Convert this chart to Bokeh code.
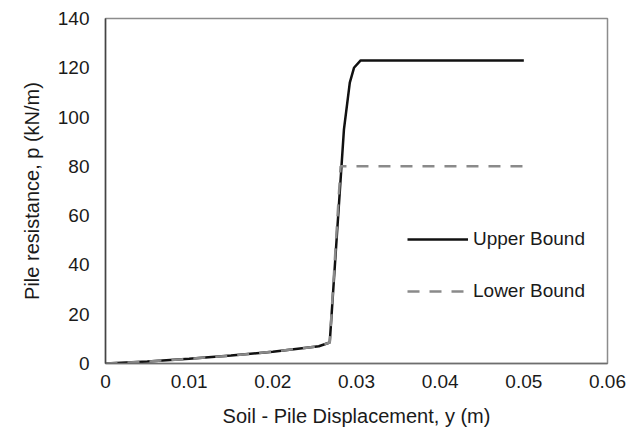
from bokeh.plotting import figure
from bokeh.models import Range1d, FixedTicker, CustomJSTickFormatter, Legend, LegendItem
from bokeh.embed import file_html
from bokeh.resources import INLINE

# Data
upper_y = [0, 0.005, 0.01, 0.015, 0.02, 0.0255, 0.0268, 0.0285, 0.0292, 0.0297, 0.0305, 0.05]
upper_p = [0, 0.8, 1.9, 3.2, 4.8, 7.0, 8.5, 95, 114, 120, 123, 123]
lower_y = [0, 0.005, 0.01, 0.015, 0.02, 0.0255, 0.0268, 0.0281, 0.05]
lower_p = [0, 0.8, 1.9, 3.2, 4.8, 7.0, 8.5, 80, 80]
x_ticks = [0, 0.01, 0.02, 0.03, 0.04, 0.05, 0.06]
y_ticks = [0, 20, 40, 60, 80, 100, 120, 140]
series_names = ["Upper Bound", "Lower Bound"]

FONT = "Liberation Sans"
TXT = "#1a1a1a"

p = figure(width=634, height=439, output_backend="svg", toolbar_location=None,
           x_range=Range1d(0, 0.06), y_range=Range1d(0, 140),
           min_border_left=105, min_border_right=27, min_border_top=18, min_border_bottom=76)

p.xgrid.visible = False
p.ygrid.visible = False
p.outline_line_color = "#8c8c8c"
p.outline_line_width = 1.5
p.background_fill_color = "white"
p.border_fill_color = "white"

r_up = p.line(upper_y, upper_p, line_color="#111111", line_width=2.5)
r_lo = p.line(lower_y, lower_p, line_color="#8a8a8a", line_width=2.5, line_dash="12 10")

for ax in (p.xaxis[0], p.yaxis[0]):
    ax.major_tick_in = 0
    ax.major_tick_out = 0
    ax.minor_tick_in = 0
    ax.minor_tick_out = 0
    ax.major_label_text_font = FONT
    ax.major_label_text_font_size = "19px"
    ax.major_label_text_color = TXT
    ax.axis_label_text_font = FONT
    ax.axis_label_text_font_size = "20px"
    ax.axis_label_text_font_style = "normal"
    ax.axis_label_text_color = TXT

p.xaxis[0].ticker = FixedTicker(ticks=x_ticks)
p.yaxis[0].ticker = FixedTicker(ticks=y_ticks)
p.xaxis[0].formatter = CustomJSTickFormatter(code="return String(Math.round(tick*100)/100);")
p.xaxis[0].axis_label = "Soil - Pile Displacement, y (m)"
p.yaxis[0].axis_label = "Pile resistance, p (kN/m)"
p.xaxis[0].axis_line_color = "#6e6e6e"
p.yaxis[0].axis_line_color = "#444444"
p.xaxis[0].axis_line_width = 1.5
p.yaxis[0].axis_line_width = 1.5
p.xaxis[0].major_label_standoff = 11
p.yaxis[0].major_label_standoff = 16
p.xaxis[0].axis_label_standoff = 14
p.yaxis[0].axis_label_standoff = 12

legend = Legend(items=[LegendItem(label=series_names[0], renderers=[r_up]),
                       LegendItem(label=series_names[1], renderers=[r_lo])],
                location=(302, 61), orientation="vertical")
legend.border_line_color = None
legend.background_fill_alpha = 0
legend.padding = 0
legend.margin = 0
legend.spacing = 30
legend.glyph_width = 61
legend.glyph_height = 20
legend.label_height = 20
legend.label_standoff = 5
legend.label_text_font = FONT
legend.label_text_font_size = "19px"
legend.label_text_color = TXT
p.add_layout(legend, "center")

open("out.html", "w").write(file_html(p, INLINE))
